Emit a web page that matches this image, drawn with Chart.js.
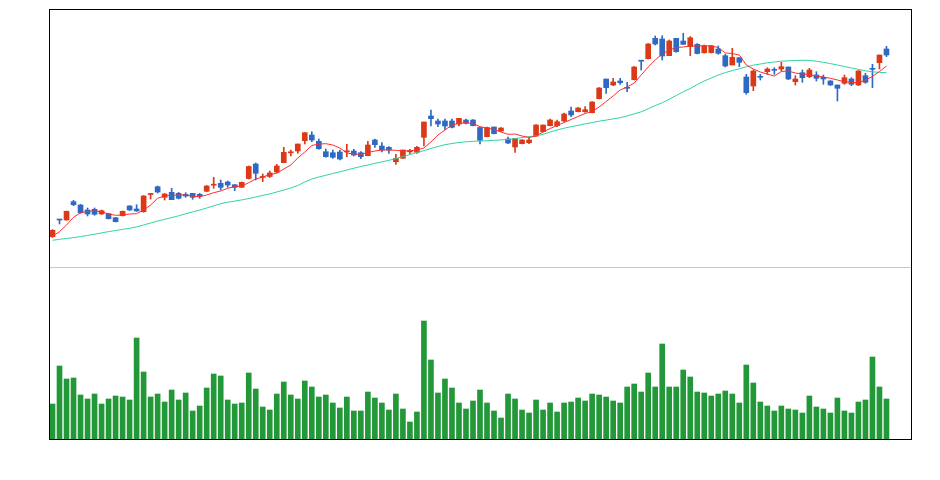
<!DOCTYPE html>
<html>
<head>
<meta charset="utf-8">
<script src="https://cdn.jsdelivr.net/npm/chart.js@4.4.1/dist/chart.umd.min.js"></script>
<style>
  html, body { margin: 0; padding: 0; background: #fff; }
  #wrap { width: 940px; height: 480px; }
</style>
</head>
<body>
<div id="wrap"><canvas id="kChart" width="940" height="480"></canvas></div>
<script>
// 일봉 데이터 (시가 / 종가 / 고가 / 저가)
const openP = [
  13.03, 14.77, 14.70, 16.53, 16.20, 15.70, 15.77, 15.30, 15.33, 14.93,
  15.13, 16.10, 15.80, 15.53, 17.25, 18.03, 16.97, 17.47, 17.37, 17.27,
  17.37, 17.27, 17.57, 18.18, 18.37, 18.50, 18.23, 17.97, 18.85, 20.30,
  18.96, 19.05, 19.50, 20.43, 21.42, 21.60, 22.63, 23.20, 22.57, 21.53,
  21.43, 21.50, 21.52, 21.60, 21.43, 21.13, 22.70, 22.10, 21.97, 20.53,
  20.87, 21.52, 21.47, 22.97, 25.10, 24.60, 24.60, 24.60, 24.30, 24.70,
  24.70, 23.95, 23.03, 24.00, 23.60, 22.80, 22.00, 22.33, 22.43, 23.10,
  23.53, 24.13, 24.13, 24.60, 25.60, 25.53, 25.53, 25.43, 26.83, 28.80,
  28.20, 28.60, 27.88, 28.73, 30.60, 30.83, 32.87, 32.80, 31.13, 32.87,
  32.60, 32.03, 32.27, 31.42, 31.43, 31.80, 31.13, 30.20, 30.93, 29.00,
  28.10, 28.98, 29.53, 29.68, 29.80, 30.00, 28.53, 29.43, 29.03, 29.20,
  28.97, 28.60, 28.20, 28.37, 28.80, 28.20, 29.13, 29.78, 30.43, 31.80
];
const closeP = [
  13.67, 14.70, 15.57, 16.23, 15.43, 15.30, 15.27, 15.63, 14.83, 14.53,
  15.57, 15.70, 15.60, 17.10, 17.27, 17.50, 17.30, 16.73, 16.87, 17.10,
  16.97, 17.10, 18.10, 18.20, 17.97, 18.20, 17.97, 18.47, 20.05, 19.37,
  18.97, 19.40, 20.10, 21.47, 21.43, 22.30, 23.43, 22.70, 21.83, 21.03,
  20.97, 20.80, 21.53, 21.20, 21.03, 22.20, 22.23, 21.70, 21.70, 20.87,
  21.70, 21.53, 21.97, 24.50, 24.83, 24.30, 24.10, 23.97, 24.87, 24.37,
  24.13, 22.67, 23.95, 23.33, 23.90, 22.40, 22.87, 22.70, 22.70, 24.20,
  24.20, 24.70, 24.53, 25.30, 25.20, 25.90, 25.73, 26.50, 27.90, 27.93,
  28.50, 28.43, 27.87, 30.00, 30.58, 32.30, 32.30, 31.10, 32.60, 31.53,
  32.27, 32.92, 31.35, 32.10, 32.13, 31.37, 30.10, 30.97, 30.47, 27.43,
  29.60, 28.97, 29.80, 29.67, 30.03, 28.80, 28.80, 28.93, 29.70, 28.87,
  28.80, 28.20, 27.87, 28.93, 28.27, 29.60, 28.47, 29.77, 31.20, 31.20
];
const highP = [
  13.75, 14.77, 15.60, 16.67, 16.27, 15.90, 15.90, 15.70, 15.37, 14.95,
  15.60, 16.15, 16.23, 17.15, 17.37, 18.10, 17.35, 17.87, 17.47, 17.43,
  17.37, 17.37, 18.15, 18.97, 18.70, 18.60, 18.23, 18.50, 20.10, 20.40,
  19.30, 19.60, 20.27, 21.97, 21.70, 22.30, 23.43, 23.53, 22.80, 21.80,
  21.70, 21.70, 22.27, 21.77, 21.53, 22.57, 22.80, 22.43, 22.03, 21.27,
  21.70, 21.77, 22.07, 24.50, 25.70, 24.80, 24.80, 24.80, 24.87, 24.80,
  24.75, 23.95, 24.00, 24.00, 23.95, 23.00, 22.87, 22.75, 22.90, 24.25,
  24.20, 24.80, 24.70, 25.40, 26.00, 25.95, 26.03, 26.55, 27.95, 28.80,
  28.87, 28.87, 28.47, 30.05, 30.60, 32.35, 33.10, 33.13, 32.70, 32.87,
  33.37, 33.05, 32.35, 32.20, 32.15, 32.10, 31.27, 31.87, 30.93, 29.27,
  29.70, 29.27, 29.93, 29.93, 30.47, 30.00, 29.13, 29.70, 29.87, 29.53,
  29.20, 28.65, 28.20, 29.20, 28.93, 29.65, 29.37, 30.27, 31.20, 32.07
];
const lowP = [
  12.95, 14.30, 14.68, 16.13, 15.37, 15.10, 15.17, 15.27, 14.80, 14.50,
  15.10, 15.65, 15.57, 15.47, 16.80, 17.40, 16.70, 16.73, 16.80, 16.97,
  16.77, 16.87, 17.55, 17.87, 17.70, 17.97, 17.63, 17.95, 18.80, 18.70,
  18.53, 18.95, 19.43, 20.43, 21.10, 21.37, 22.30, 22.53, 21.77, 20.97,
  20.87, 20.70, 21.03, 21.10, 20.83, 21.13, 21.97, 21.50, 21.37, 20.27,
  20.85, 21.30, 21.37, 22.10, 24.10, 24.03, 23.77, 23.90, 24.10, 24.30,
  24.10, 22.30, 23.00, 23.30, 23.55, 22.33, 21.47, 22.30, 22.33, 23.05,
  23.50, 24.10, 24.03, 24.53, 25.03, 25.50, 25.47, 25.40, 26.80, 27.37,
  28.13, 28.27, 27.53, 28.70, 29.70, 30.80, 32.20, 30.70, 31.13, 31.47,
  32.25, 31.13, 31.30, 31.40, 31.40, 31.27, 30.00, 30.20, 30.03, 27.27,
  27.63, 28.70, 29.27, 29.27, 29.60, 28.73, 28.20, 28.47, 28.93, 28.60,
  28.27, 28.15, 26.60, 28.27, 28.13, 28.15, 28.37, 27.93, 29.80, 31.03
];

// 이동평균선
const ma5 = [
  13.10, 13.53, 14.20, 14.97, 15.43, 15.57, 15.60, 15.53, 15.30, 15.17,
  15.20, 15.30, 15.33, 15.70, 16.20, 16.87, 17.10, 17.17, 17.20, 17.20,
  17.07, 17.03, 17.20, 17.43, 17.60, 17.87, 18.03, 18.10, 18.43, 18.80,
  19.00, 19.25, 19.37, 19.80, 20.20, 20.90, 21.50, 22.15, 22.30, 22.33,
  22.20, 21.90, 21.40, 21.30, 21.27, 21.45, 21.60, 21.70, 21.70, 21.67,
  21.60, 21.63, 21.70, 21.90, 22.50, 23.20, 23.70, 24.20, 24.37, 24.43,
  24.35, 24.03, 23.90, 23.75, 23.50, 23.27, 23.30, 23.10, 22.95, 23.10,
  23.50, 23.85, 24.15, 24.45, 24.75, 25.05, 25.35, 25.55, 26.00, 26.55,
  27.10, 27.70, 28.00, 28.40, 29.20, 30.00, 30.70, 31.30, 31.70, 31.95,
  32.00, 32.10, 32.10, 32.13, 32.10, 31.95, 31.40, 31.35, 31.20, 30.20,
  29.80, 29.50, 29.30, 29.10, 29.55, 29.60, 29.40, 29.30, 29.25, 29.10,
  29.00, 28.87, 28.70, 28.53, 28.45, 28.43, 28.70, 29.05, 29.55, 30.10
];
const ma20 = [
  12.67, 12.77, 12.85, 12.94, 13.04, 13.16, 13.28, 13.41, 13.54, 13.65,
  13.76, 13.87, 14.01, 14.20, 14.40, 14.60, 14.77, 14.94, 15.12, 15.32,
  15.51, 15.70, 15.90, 16.12, 16.33, 16.48, 16.59, 16.71, 16.84, 17.00,
  17.16, 17.31, 17.50, 17.70, 17.90, 18.15, 18.50, 18.80, 19.00, 19.17,
  19.35, 19.52, 19.70, 19.88, 20.05, 20.20, 20.36, 20.51, 20.67, 20.84,
  21.04, 21.25, 21.45, 21.64, 21.85, 22.05, 22.23, 22.35, 22.45, 22.52,
  22.57, 22.60, 22.62, 22.67, 22.71, 22.76, 22.84, 22.94, 23.04, 23.12,
  23.27, 23.50, 23.70, 23.88, 24.03, 24.17, 24.31, 24.44, 24.58, 24.69,
  24.81, 24.93, 25.11, 25.31, 25.52, 25.82, 26.14, 26.42, 26.78, 27.15,
  27.52, 27.85, 28.25, 28.60, 28.90, 29.20, 29.44, 29.64, 29.83, 30.02,
  30.18, 30.30, 30.42, 30.50, 30.58, 30.62, 30.65, 30.67, 30.66, 30.58,
  30.47, 30.34, 30.20, 30.05, 29.90, 29.76, 29.62, 29.52, 29.46, 29.43
];

// 거래량
const volume = [
  350, 730, 600, 610, 440, 400, 450, 350, 400, 430,
  420, 390, 1010, 670, 420, 450, 370, 490, 390, 460,
  280, 330, 510, 650, 630, 390, 350, 360, 660, 500,
  320, 290, 450, 570, 440, 400, 580, 520, 420, 440,
  360, 310, 420, 280, 280, 470, 410, 360, 290, 450,
  300, 170, 270, 1180, 790, 460, 600, 510, 360, 300,
  380, 490, 360, 280, 210, 450, 400, 290, 260, 390,
  290, 360, 270, 360, 370, 410, 380, 450, 440, 420,
  380, 360, 520, 550, 470, 660, 520, 950, 520, 520,
  690, 620, 470, 460, 430, 450, 480, 450, 360, 740,
  560, 370, 330, 280, 330, 300, 290, 260, 430, 320,
  300, 260, 410, 280, 260, 370, 390, 820, 520, 400
];

// x축: 데이터 120개 + 오른쪽 빈 칸 3개
const slotCount = 123;
const dayLabels = Array.from({ length: slotCount }, (_, i) => 'D' + (i + 1));

const upColor = '#da3a18';
const downColor = '#2e6ac4';
const candleColor = openP.map((o, i) => (closeP[i] >= o ? upColor : downColor));

// 테두리와 가격/거래량 구분선
const framePlugin = {
  id: 'frame',
  afterDatasetsDraw(chart) {
    const { ctx, chartArea: a } = chart;
    const split = Math.round(chart.scales.y.getPixelForValue(10));
    ctx.save();
    ctx.lineWidth = 1;
    ctx.strokeStyle = '#c8c8c8';
    ctx.beginPath();
    ctx.moveTo(a.left, split + 0.5);
    ctx.lineTo(a.right, split + 0.5);
    ctx.stroke();
    ctx.strokeStyle = '#000';
    ctx.strokeRect(a.left + 0.5, a.top + 0.5, a.right - a.left, a.bottom - a.top);
    ctx.restore();
  }
};

new Chart(document.getElementById('kChart'), {
  data: {
    labels: dayLabels,
    datasets: [
      {
        type: 'line', label: 'MA5', data: ma5, yAxisID: 'y',
        borderColor: '#ff2d2d', borderWidth: 1, pointRadius: 0, order: 0
      },
      {
        type: 'line', label: 'MA20', data: ma20, yAxisID: 'y',
        borderColor: '#2fd5a0', borderWidth: 1, pointRadius: 0, order: 0
      },
      {
        type: 'bar', label: 'wick', data: highP.map((h, i) => [lowP[i], h]), yAxisID: 'y',
        backgroundColor: candleColor, barThickness: 1, grouped: false, order: 1
      },
      {
        type: 'bar', label: 'body', data: openP.map((o, i) => [o, closeP[i]]), yAxisID: 'y',
        backgroundColor: candleColor, barThickness: 5, minBarLength: 1, grouped: false, order: 1
      },
      {
        type: 'bar', label: 'volume', data: volume, yAxisID: 'yv',
        backgroundColor: '#229838', barThickness: 5, grouped: false, order: 2
      }
    ]
  },
  options: {
    responsive: false,
    animation: false,
    layout: { padding: { left: 49, top: 9, right: 29, bottom: 41 } },
    plugins: { legend: { display: false }, tooltip: { enabled: false } },
    scales: {
      x: { display: false, offset: true },
      y: { display: false, min: -7.2, max: 35.8 },
      yv: { display: false, min: 0, max: 4300 }
    }
  },
  plugins: [framePlugin]
});
</script>
</body>
</html>
